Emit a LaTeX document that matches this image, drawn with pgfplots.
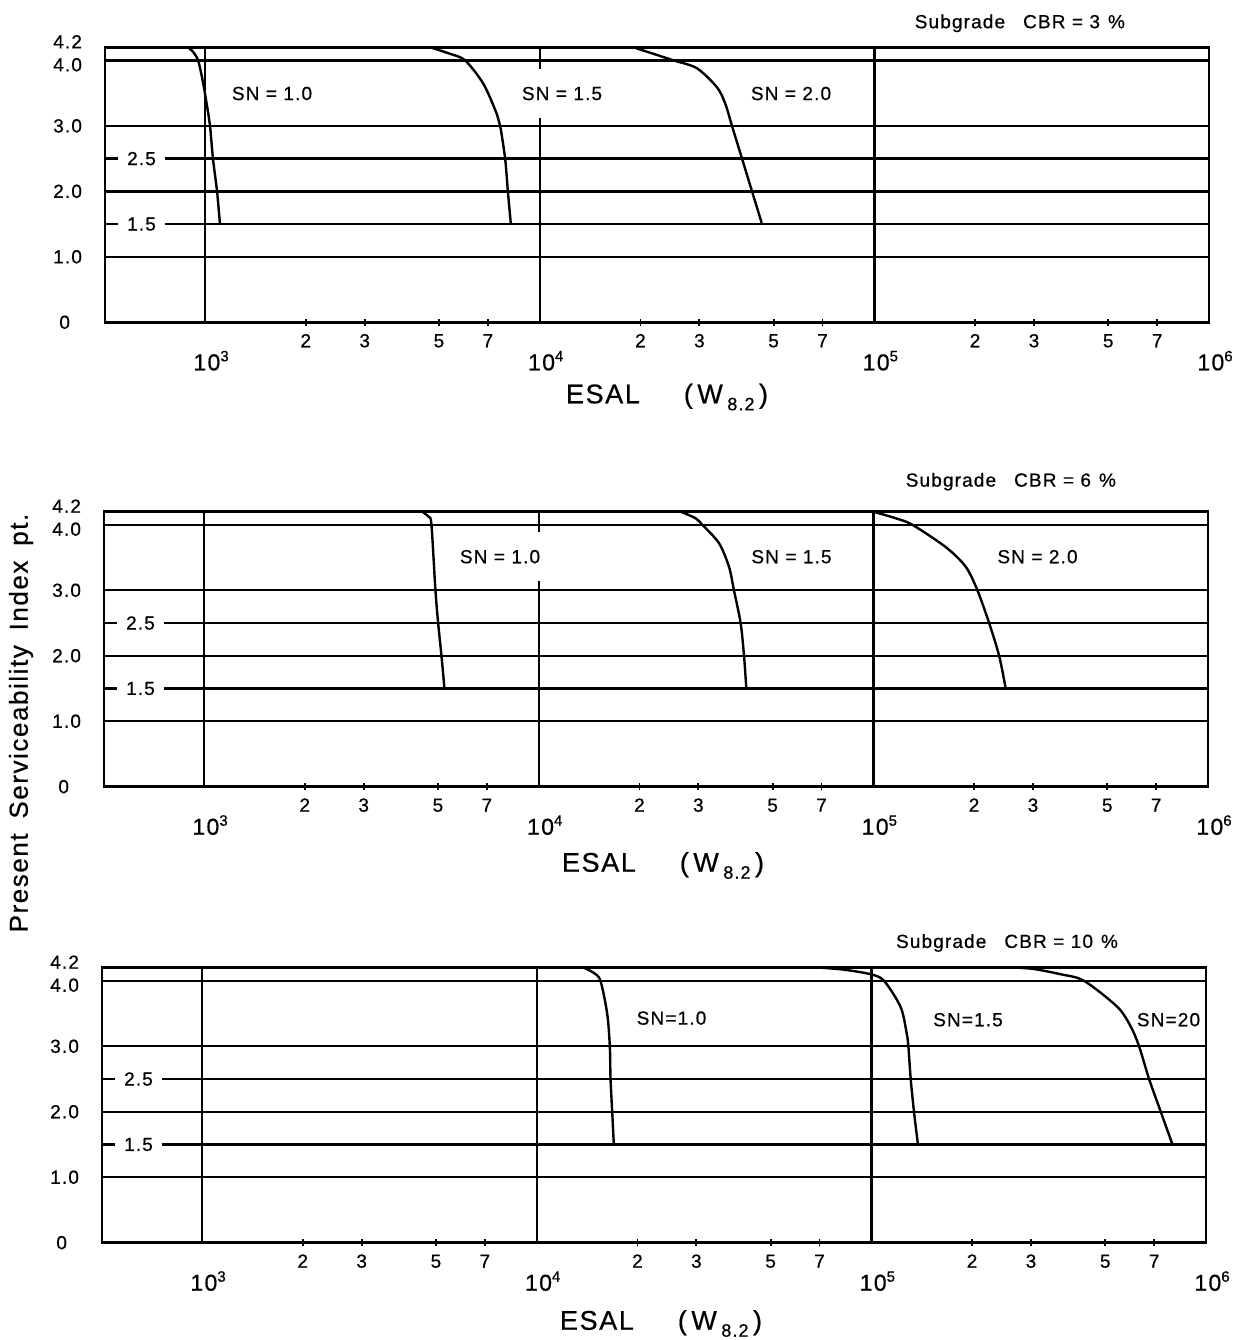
\documentclass[border=0pt]{standalone}
\usepackage{pgfplots}
\pgfplotsset{compat=1.18}
\usepackage{fontspec}
\setmainfont{Liberation Sans}[LetterSpace=6, FakeBold=0.6]

\newcommand\tfont{\fontsize{9.5}{11}\selectfont}
\newcommand\dec[1]{\fontsize{11.5}{13}\selectfont 10\raisebox{4.5pt}{\fontsize{7.5}{8}\selectfont #1}}

\newcommand\commonlabels[2]{%
 \foreach \v/\lab in {2000/2,3000/3,5000/5,7000/7,20000/2,30000/3,50000/5,70000/7,200000/2,300000/3,500000/5,700000/7}{
   \node[font=\tfont, anchor=base, yshift=-12.5pt] at (axis cs:\v,0) {\lab};}
 \foreach \v/\lab in {1000/3,10000/4,100000/5,1000000/6}{
   \node[anchor=base, xshift=3pt, yshift=-24pt] at (axis cs:\v,0) {\dec{\lab}};}
 \foreach \v/\lab in {1/1.0,2/2.0,3/3.0}{
   \node[font=\tfont, anchor=east, xshift=-8pt] at (axis cs:502.4,\v) {\lab};}
 \node[font=\tfont, anchor=east, xshift=-8pt, yshift=-2.2pt] at (axis cs:502.4,4) {4.0};
 \node[font=\tfont, anchor=east, xshift=-8pt, yshift=2.8pt] at (axis cs:502.4,4.2) {4.2};
 \node[font=\tfont, anchor=east, xshift=-14pt] at (axis cs:502.4,0) {0};
 \foreach \v in {1.5,2.5}{
   \node[font=\tfont, fill=white, inner sep=0pt, minimum width=23.5pt, minimum height=5pt, xshift=18.25pt] at (axis cs:502.4,\v) {\v};}
 \node[anchor=base, xshift=#2, yshift=-#1] at (rel axis cs:0.5,0) {\fontsize{13.5}{16}\selectfont ESAL\hspace{22pt}(\,W\,\raisebox{-3.5pt}{\fontsize{9}{10}\selectfont 8.2}\,)};
}

\tikzset{snlab/.style={font=\tfont, anchor=center},
         snfill/.style={fill=white, inner xsep=2pt, inner ysep=9pt},
         crv/.style={black, line width=1.2pt, mark=none, smooth, tension=0.5}}

\pgfplotsset{
 every axis/.append style={
  scale only axis, width=552pt, height=137.5pt,
  xmin=502.4, xmax=1e6, ymin=0, ymax=4.2,
  xtick={1000,10000,100000,1000000}, xticklabels={},
  ytick={0,1,1.5,2,2.5,3,4,4.2}, yticklabels={},
  xminorticks=false, yminorticks=false,
  xtick pos=bottom, ytick pos=left,
  major tick length=0pt,
  extra x ticks={2000,3000,5000,7000,20000,30000,50000,70000,200000,300000,500000,700000},
  extra x tick labels={},
  extra x tick style={grid=none, major tick length=3.5pt, tick align=center, tick style={line width=0.9pt, black}},
  grid=major,
  major grid style={line width=1.2pt, black},
  axis line style={line width=1.4pt},
  anchor=north west,
 },
}

\begin{document}
\begin{tikzpicture}
\path[use as bounding box] (0pt,0pt) rectangle (621pt,-670pt);

\node[rotate=90, font=\fontsize{13}{15}\selectfont] at (10.5pt,-361.5pt) {Present\hspace{3pt} Serviceability\hspace{3pt} Index\hspace{3pt} pt.};

% ---------- Panel 1: CBR = 3 % ----------
\begin{semilogxaxis}[at={(52.5pt,-23.65pt)},
 after end axis/.code={
  \commonlabels{40.5pt}{5pt}
  \node[snlab, xshift=83.5pt, yshift=-23.1pt] at (rel axis cs:0,1) {SN = 1.0};
  \node[snlab, snfill, xshift=228.5pt, yshift=-23.1pt] at (rel axis cs:0,1) {SN = 1.5};
  \node[snlab, xshift=343pt, yshift=-23.1pt] at (rel axis cs:0,1) {SN = 2.0};
  \node[font=\tfont, anchor=east, xshift=-38.5pt, yshift=12pt] at (rel axis cs:1,1) {Subgrade\hspace{9pt}CBR = 3\hspace{4pt}\%};
 }]
\addplot[crv] coordinates {(884,4.2) (914,4.15) (953,4.0) (988,3.64) (1023,3.18) (1035,3.0) (1056,2.5) (1086,2.0) (1108,1.5)};
\addplot[crv] coordinates {(4706,4.2) (5400,4.10) (5988,4.0) (6792,3.64) (7448,3.18) (7620,3.0) (7885,2.5) (8033,2.0) (8201,1.5)};
\addplot[crv] coordinates {(19070,4.2) (21890,4.10) (25120,4.0) (29500,3.88) (33860,3.59) (35850,3.34) (37550,3.0) (40230,2.5) (43100,2.0) (46170,1.5)};
\end{semilogxaxis}

% ---------- Panel 2: CBR = 6 % ----------
\begin{semilogxaxis}[at={(52pt,-255.85pt)},
 after end axis/.code={
  \commonlabels{42.5pt}{3.5pt}
  \node[snlab, snfill, xshift=198pt, yshift=-22.5pt] at (rel axis cs:0,1) {SN = 1.0};
  \node[snlab, xshift=343.75pt, yshift=-22.5pt] at (rel axis cs:0,1) {SN = 1.5};
  \node[snlab, xshift=466.75pt, yshift=-22.5pt] at (rel axis cs:0,1) {SN = 2.0};
  \node[font=\tfont, anchor=east, xshift=-42.5pt, yshift=15pt] at (rel axis cs:1,1) {Subgrade\hspace{9pt}CBR = 6\hspace{4pt}\%};
 }]
\addplot[crv] coordinates {(4484,4.2) (4696,4.12) (4781,4.0) (4914,3.0) (5006,2.5) (5122,2.0) (5229,1.5)};
\addplot[crv] coordinates {(26540,4.2) (29430,4.10) (30830,4.0) (34570,3.72) (37040,3.36) (38330,3.0) (40120,2.5) (41070,2.0) (41730,1.5)};
\addplot[crv] coordinates {(100000,4.2) (116600,4.10) (130800,4.0) (164500,3.66) (188800,3.36) (204600,3.0) (221800,2.5) (237600,2.0) (248600,1.5)};
\end{semilogxaxis}

% ---------- Panel 3: CBR = 10 % ----------
\begin{semilogxaxis}[at={(51pt,-483.85pt)},
 after end axis/.code={
  \commonlabels{43.5pt}{3.5pt}
  \node[snlab, xshift=284.75pt, yshift=-25.2pt] at (rel axis cs:0,1) {SN=1.0};
  \node[snlab, xshift=433pt, yshift=-26pt] at (rel axis cs:0,1) {SN=1.5};
  \node[snlab, xshift=533.25pt, yshift=-26pt] at (rel axis cs:0,1) {SN=20};
  \node[font=\tfont, anchor=east, xshift=-40.5pt, yshift=12.35pt] at (rel axis cs:1,1) {Subgrade\hspace{9pt}CBR = 10\hspace{4pt}\%};
 }]
\addplot[crv] coordinates {(13830,4.2) (14820,4.12) (15510,4.0) (16240,3.5) (16540,3.0) (16620,2.5) (16810,2.0) (17000,1.5)};
\addplot[crv] coordinates {(70540,4.2) (82820,4.17) (99520,4.1) (109100,4.0) (122300,3.6) (127500,3.2) (129000,3.0) (131100,2.5) (134100,2.0) (137800,1.5)};
\addplot[crv] coordinates {(273000,4.2) (306300,4.18) (368100,4.1) (432100,4.0) (543800,3.6) (596000,3.3) (631000,3.0) (676000,2.5) (732600,2.0) (794100,1.5)};
\end{semilogxaxis}
\end{tikzpicture}
\end{document}
